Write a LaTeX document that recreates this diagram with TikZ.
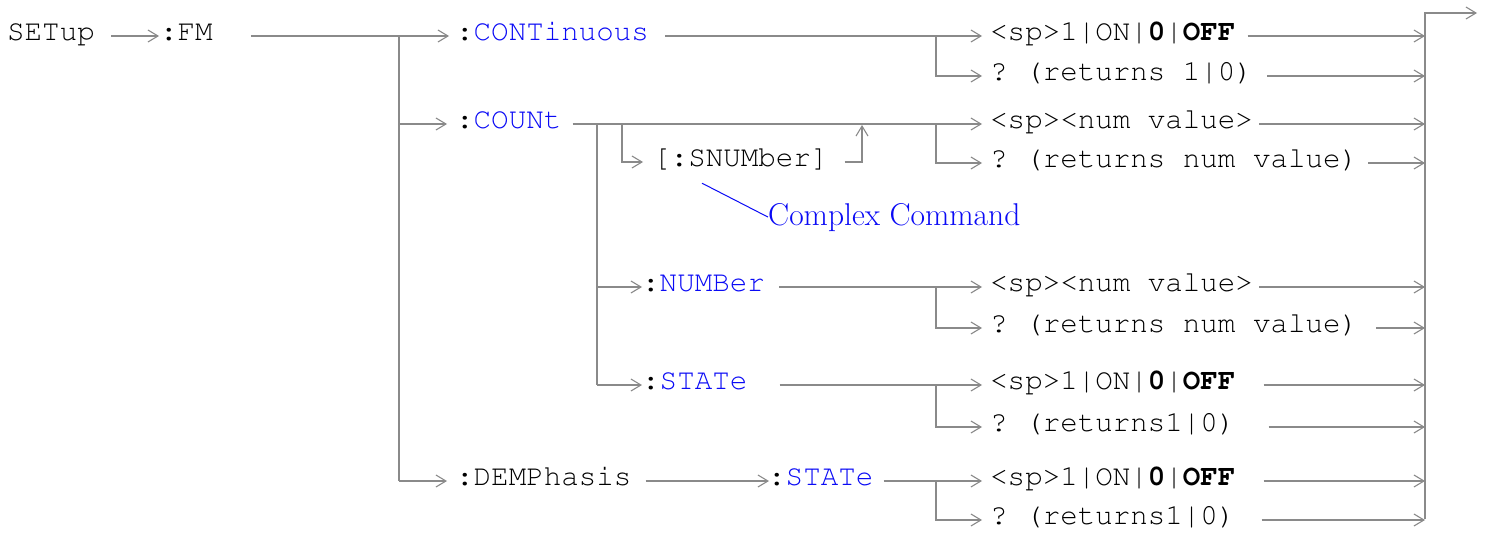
\documentclass[tikz,border=0pt]{standalone}
\usepackage[T1,TU]{fontenc}
\usetikzlibrary{arrows.meta}
\definecolor{ln}{RGB}{138,138,138}
\definecolor{cb}{RGB}{10,10,245}
\newcommand{\cmd}[1]{\textcolor{cb}{#1}}
\newcommand{\bo}[1]{\textbf{#1}}
\frenchspacing
\begin{document}
\begin{tikzpicture}[x=1pt,y=-1pt,
 mono/.style={anchor=west,inner sep=0pt,text height=8pt,text depth=0pt,
   font=\fontencoding{T1}\fontfamily{pcr}\fontsize{29.2}{32}\selectfont\frenchspacing},
 conn/.style={draw=ln,line width=1.8pt},
 arr/.style={conn,-{Straight Barb[length=10pt,width=12pt,line width=1.1pt]}},
 note/.style={anchor=base west,inner sep=0pt,text=cb,font=\fontsize{31.5}{34}\selectfont},
 callout/.style={draw=cb,line width=1pt}]
\useasboundingbox (0,0) rectangle (1487,538);
% left and middle nodes
\node[mono] (setup) at (7,36) {SETup};
\node[mono] (fm) at (160,36) {:FM};
\node[mono] (cont) at (456,36) {:\cmd{CONTinuous}};
\node[mono] (count) at (456,124) {:\cmd{COUNt}};
\node[mono] (snum) at (653,162) {[:SNUMber]};
\node[note] (complex) at (768,225) {Complex Command};
\node[mono] (number) at (642,287) {:\cmd{NUMBer}};
\node[mono] (state) at (642,385) {:\cmd{STATe}};
\node[mono] (demph) at (456,481) {:DEMPhasis};
\node[mono] (dstate) at (768,481) {:\cmd{STATe}};
% right column
\node[mono] (a1) at (990,36) {<sp>1|ON|\bo{0}|\bo{OFF}};
\node[mono] (a2) at (990,76) {? (returns 1|0)};
\node[mono] (b1) at (990,124) {<sp><num value>};
\node[mono] (b2) at (990,163) {? (returns num value)};
\node[mono] (c1) at (990,287) {<sp><num value>};
\node[mono] (c2) at (990,328) {? (returns num value)};
\node[mono] (d1) at (990,385) {<sp>1|ON|\bo{0}|\bo{OFF}};
\node[mono] (d2) at (990,427) {? (returns1|0)};
\node[mono] (e1) at (990,481) {<sp>1|ON|\bo{0}|\bo{OFF}};
\node[mono] (e2) at (990,520) {? (returns1|0)};
% junctions
\coordinate (t0) at (399,36);
\coordinate (t1) at (399,124);
\coordinate (t2) at (399,481);
\coordinate (k0) at (597,124);
\coordinate (k1) at (597,287);
\coordinate (k2) at (597,385);
\coordinate (s0) at (622,124);
\coordinate (rt) at (862,125);
\coordinate (ja) at (936,36);
\coordinate (jb) at (936,124);
\coordinate (jc) at (936,287);
\coordinate (jd) at (936,385);
\coordinate (je) at (936,481);
\coordinate (bar0) at (1425,13);
\coordinate (bar1) at (1425,519);
\coordinate (out) at (1477,13);
% connectors
\draw[arr] ([xshift=16]setup.east) -- ([xshift=-1]fm.west);
\draw[arr] ([xshift=38]fm.east) -- ([xshift=-7]cont.west);
\draw[conn] (t0) -- (t2);
\draw[arr] (t1) -- ([xshift=-9]count.west);
\draw[arr] (t2) -- ([xshift=-9]demph.west);
\draw[arr] ([xshift=16]cont.east) -- ([xshift=-8]a1.west);
\draw[arr] (ja) |- ([xshift=-8]a2.west);
\draw[arr] ([xshift=11]count.east) -- ([xshift=-8]b1.west);
\draw[arr] (jb) |- ([xshift=-8]b2.west);
\draw[arr] (s0) |- ([xshift=-10]snum.west);
\draw[arr] ([xshift=16]snum.east) -| (rt);
\draw[callout] ([shift={(49,17)}]snum.south west) -- (complex.west);
\draw[conn] (k0) -- (k2);
\draw[arr] (k1) -- (number.west);
\draw[arr] (k2) -- (state.west);
\draw[arr] ([xshift=14]number.east) -- ([xshift=-8]c1.west);
\draw[arr] (jc) |- ([xshift=-8]c2.west);
\draw[arr] ([xshift=32]state.east) -- ([xshift=-8]d1.west);
\draw[arr] (jd) |- ([xshift=-8]d2.west);
\draw[arr] ([xshift=14]demph.east) -- ([xshift=1]dstate.west);
\draw[arr] ([xshift=10]dstate.east) -- ([xshift=-8]e1.west);
\draw[arr] (je) |- ([xshift=-8]e2.west);
% to the right bar
\draw[arr] ([xshift=12]a1.east) -- (a1.east -| bar0);
\draw[arr] ([xshift=14]a2.east) -- (a2.east -| bar0);
\draw[arr] ([xshift=6]b1.east) -- (b1.east -| bar0);
\draw[arr] ([xshift=10]b2.east) -- (b2.east -| bar0);
\draw[arr] ([xshift=6]c1.east) -- (c1.east -| bar0);
\draw[arr] ([xshift=18]c2.east) -- (c2.east -| bar0);
\draw[arr] ([xshift=28]d1.east) -- (d1.east -| bar0);
\draw[arr] ([xshift=33]d2.east) -- (d2.east -| bar0);
\draw[arr] ([xshift=28]e1.east) -- (e1.east -| bar0);
\draw[arr] ([xshift=26]e2.east) -- (e2.east -| bar0);
\draw[arr] (bar1) -- (bar0) -- (out);
\end{tikzpicture}
\end{document}
